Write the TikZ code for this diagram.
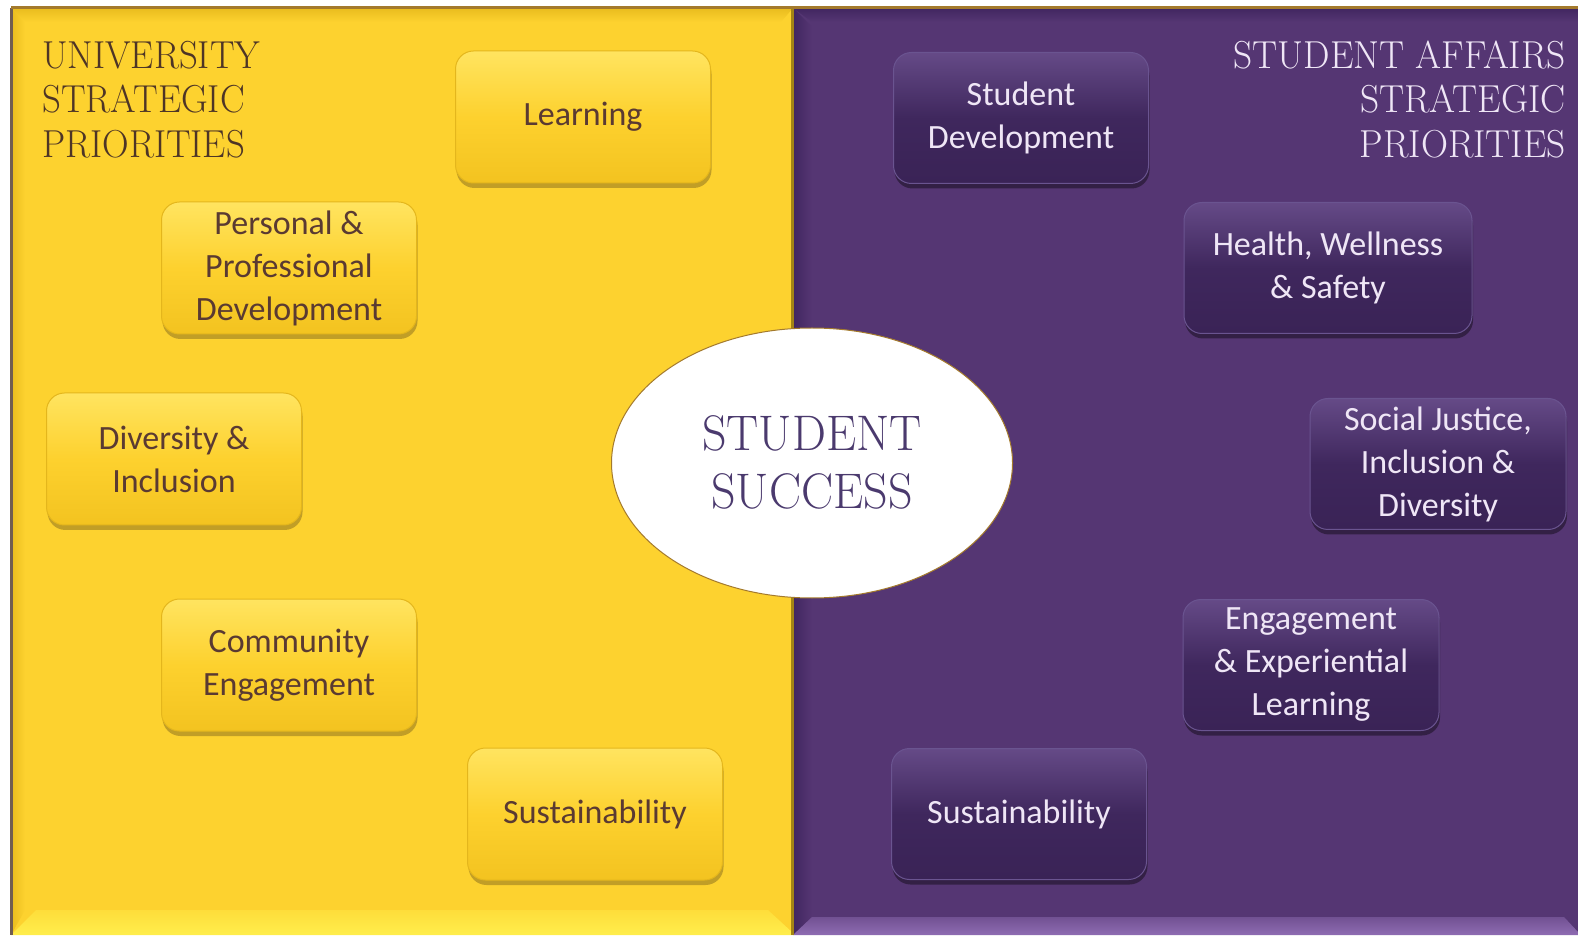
\documentclass[tikz,border=0pt]{standalone}
\usepackage{fontspec}
\usetikzlibrary{shadows,shapes.geometric}
\newfontfamily\boxfont{Carlito}
\definecolor{ygold}{HTML}{FDD22F}
\definecolor{ydark}{HTML}{E9BC1E}
\definecolor{ylight}{HTML}{FFEE4C}
\definecolor{ppl}{HTML}{553673}
\definecolor{pdark}{HTML}{412660}
\definecolor{plight}{HTML}{8E6CB2}
\definecolor{ybtop}{HTML}{FFE460}
\definecolor{ybmid}{HTML}{FDD12E}
\definecolor{ybbot}{HTML}{F3C320}
\definecolor{ybedge}{HTML}{E4B61C}
\definecolor{ytext}{HTML}{5A3A32}
\definecolor{pbtop}{HTML}{654A87}
\definecolor{pbmid}{HTML}{3F275D}
\definecolor{pbbot}{HTML}{3A2356}
\definecolor{pbedge}{HTML}{6A5490}
\definecolor{ptext}{HTML}{EFE6F6}
\definecolor{ttlbrown}{HTML}{4E3526}
\definecolor{ttlpurple}{HTML}{4B3A6E}
\definecolor{rimgold}{HTML}{A47A2C}
\tikzset{
  ybox/.style={rounded corners=18pt, minimum width=255pt, minimum height=132pt,
    top color=ybtop, bottom color=ybbot, middle color=ybmid, draw=ybedge, line width=1pt,
    drop shadow={shadow xshift=1pt, shadow yshift=-5pt, opacity=0.3, fill=black!70!brown},
    align=center, text=ytext, inner sep=0pt,
    font=\boxfont\fontsize{34}{43}\selectfont},
  pbox/.style={rounded corners=18pt, minimum width=255pt, minimum height=131pt,
    top color=pbtop, bottom color=pbbot, middle color=pbmid, draw=pbedge, line width=1pt,
    drop shadow={shadow xshift=1pt, shadow yshift=-5pt, opacity=0.4, fill=black},
    align=center, text=ptext, inner sep=0pt,
    font=\boxfont\fontsize{34}{43}\selectfont},
  ttl/.style={inner sep=0pt, font=\fontsize{39}{45.5}\selectfont}
}
\begin{document}
\begin{tikzpicture}[x=1pt,y=1pt]
\useasboundingbox (0,0) rectangle (1578,935);
\fill[white] (0,0) rectangle (1578,935);
% yellow panel
\fill[ygold] (11,0) rectangle (793,927);
\shade[top color=ydark, bottom color=ygold] (11,927) -- (793,927) -- (781,913) -- (25,913) -- cycle;
\shade[left color=ydark, right color=ygold] (11,0) -- (11,927) -- (25,913) -- (25,25) -- cycle;
\shade[bottom color=ylight, top color=ygold!60!ylight] (11,0) -- (793,0) -- (793,2) -- (768,25) -- (36,25) -- (11,0) -- cycle;
\fill[ttlbrown!80] (10,0) rectangle (13,927);
% purple panel
\fill[ppl] (793,0) rectangle (1578,927);
\shade[left color=pdark, right color=ppl] (793,0) -- (793,927) -- (812,908) -- (812,18) -- cycle;
\shade[top color=pdark, bottom color=ppl] (793,927) -- (1578,927) -- (1578,913) -- (812,913) -- cycle;
\shade[bottom color=plight, top color=ppl!50!plight] (793,0) -- (1578,0) -- (1578,3) -- (1564,18) -- (812,18) -- cycle;
\fill[ydark!70!black] (791,0) rectangle (794,927);
\fill[rimgold] (11,926) rectangle (1578,929);
% titles
\node[ttl, text=ttlbrown, anchor=north west] (ltitle) at (42,899)
  {\scalebox{0.945}[1]{\begin{tabular}{@{}l@{}}UNIVERSITY\\[-1pt] STRATEGIC\\[-1pt] PRIORITIES\end{tabular}}};
\node[ttl, text=ptext, anchor=north east] (rtitle) at (1566,899)
  {\scalebox{0.96}[1]{\begin{tabular}{@{}r@{}}STUDENT AFFAIRS\\[-1pt] STRATEGIC\\[-1pt] PRIORITIES\end{tabular}}};
% centre ellipse
\node[ellipse, fill=white, draw=rimgold, line width=1pt, minimum width=401pt, minimum height=270pt, inner sep=0pt,
  text=ttlpurple, align=center, font=\fontsize{50}{56}\selectfont] (success) at (812,472)
  {\raisebox{-5pt}[\height][\depth]{\scalebox{0.96}[1]{\begin{tabular}{@{}c@{}}STUDENT\\[2pt] SUCCESS\end{tabular}}}};
% yellow boxes
\node[ybox] (learn) at (583,818) {Learning};
\node[ybox] (ppd) at (289,667) {Personal \&\\Professional\\Development};
\node[ybox] (divinc) at (174,476) {Diversity \&\\Inclusion};
\node[ybox] (comm) at (289,270) {Community\\Engagement};
\node[ybox] (ysust) at (595,121) {Sustainability};
% purple boxes
\node[pbox] (sdev) at (1021,817) {Student\\Development};
\node[pbox, minimum width=288pt] (hws) at (1328,667) {Health, Wellness\\\& Safety};
\node[pbox, minimum width=256pt] (sjid) at (1438,471) {Social Justice,\\Inclusion \&\\Diversity};
\node[pbox, minimum width=256pt] (eel) at (1311,270) {Engagement\\\& Experiential\\Learning};
\node[pbox] (psust) at (1019,121) {Sustainability};
\end{tikzpicture}
\end{document}
